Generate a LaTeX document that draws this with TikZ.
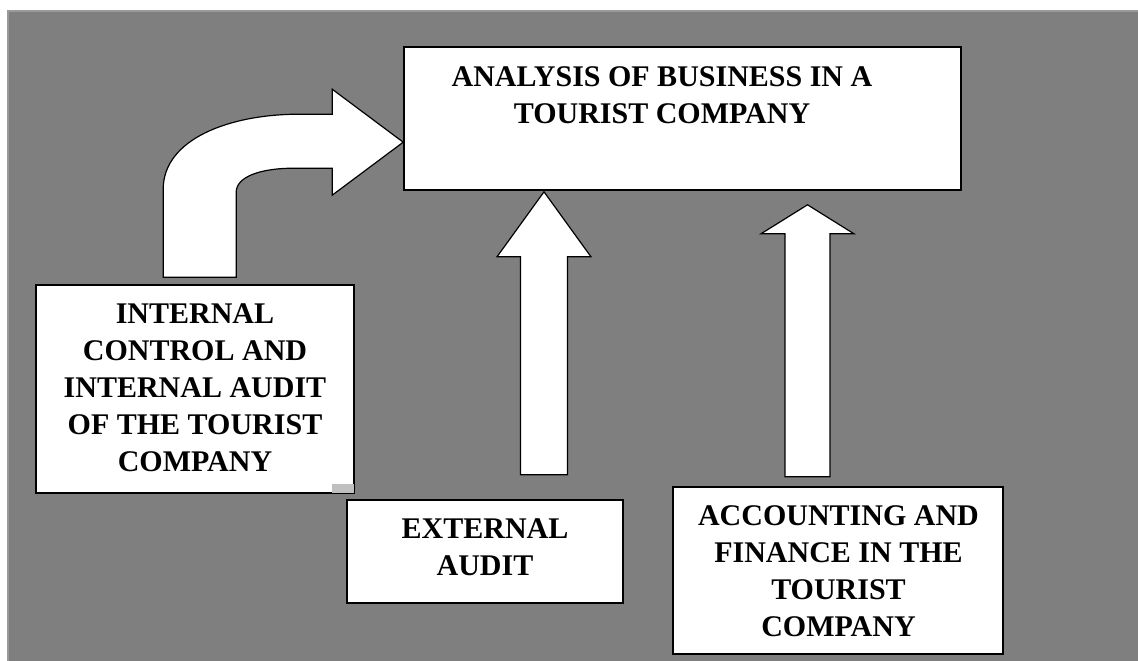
\documentclass[tikz,border=0pt]{standalone}
\usepackage{fontspec}
\setmainfont{Liberation Serif}
\usetikzlibrary{calc}
\definecolor{bg}{HTML}{7F7F7F}
\definecolor{bgedge}{HTML}{9A9A9A}
\definecolor{handle}{HTML}{C0C0C0}
\tikzset{
  box/.style={draw=black, fill=white, line width=1.6pt, inner sep=0pt},
  txt/.style={font=\fontsize{30}{37}\selectfont\bfseries, align=center, inner sep=0pt, anchor=north},
  blockarrow/.style={draw=black, fill=white, line width=1.2pt, line join=miter}
}
\begin{document}
\begin{tikzpicture}[x=1pt,y=-1pt]
\useasboundingbox (0,0) rectangle (1138,661);
% background
\fill[bgedge] (7,10) rectangle (1138,661);
\fill[bg] (9,12) rectangle (1138,661);

% boxes
\node[box, minimum width=557pt, minimum height=143pt] (analysis) at (682.5,118.5) {};
\node[box, minimum width=318pt, minimum height=208pt] (internal) at (195,389) {};
\node[box, minimum width=276pt, minimum height=103pt] (external) at (485,551.5) {};
\node[box, minimum width=330pt, minimum height=167pt] (accounting) at (838,570.5) {};

% selection handle at the corner of the internal box
\fill[handle] ($(internal.south east)+(-23,-10)$) rectangle ($(internal.south east)+(-1,-1)$);

% texts
\node[txt] (t-analysis) at (662,66) {ANALYSIS OF BUSINESS IN A\\TOURIST COMPANY};
\node[txt] (t-internal) at (195,303) {INTERNAL\\CONTROL AND\\INTERNAL AUDIT\\OF THE TOURIST\\COMPANY};
\node[txt] (t-external) at (485,518) {EXTERNAL\\AUDIT};
\node[txt] (t-accounting) at (838.5,505) {ACCOUNTING AND\\FINANCE IN THE\\TOURIST\\COMPANY};

% anchor coordinates of the block arrows
\coordinate (btip) at ($(analysis.north west)+(0,96)$);
\coordinate (mx) at (544,0);
\coordinate (mtip) at ($(analysis.south -| mx)+(0,1)$);
\coordinate (rx) at (807.5,0);
\coordinate (rtip) at ($(analysis.south -| rx)+(0,14)$);

% bent arrow from internal box to analysis box
\begin{scope}[shift={(btip)}]
\draw[blockarrow] (-240,135) -- (-240,47)
  .. controls (-240,-3) and (-174,-28) .. (-104,-28)
  -- (-71,-28) -- (-71,-53) -- (0,0) -- (-71,53) -- (-71,26) -- (-109,26)
  .. controls (-144,26) and (-167,35) .. (-167,50)
  -- (-167,135) -- cycle;
\end{scope}

% straight up arrow (external audit)
\begin{scope}[shift={(mtip)}]
\draw[blockarrow] (0,0) -- (47,65) -- (23.5,65) -- (23.5,283) -- (-23.5,283) -- (-23.5,65) -- (-47,65) -- cycle;
\end{scope}

% straight up arrow (accounting)
\begin{scope}[shift={(rtip)}]
\draw[blockarrow] (0,0) -- (46.5,29) -- (22.5,29) -- (22.5,272) -- (-22.5,272) -- (-22.5,29) -- (-46.5,29) -- cycle;
\end{scope}
\end{tikzpicture}
\end{document}
